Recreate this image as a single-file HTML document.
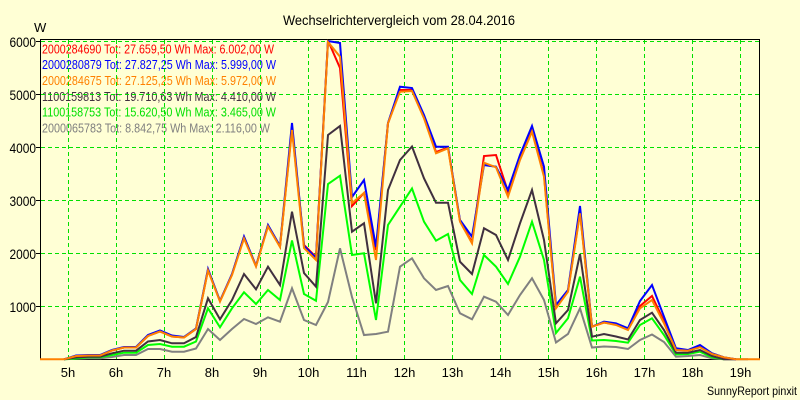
<!DOCTYPE html>
<html><head><meta charset="utf-8"><style>
html,body{margin:0;padding:0;background:#FFFFD5;}
svg{display:block;}
text{font-family:"Liberation Sans",Arial,sans-serif;}
</style></head><body>
<svg width="800" height="400" viewBox="0 0 800 400" xmlns="http://www.w3.org/2000/svg">
<rect x="0" y="0" width="800" height="400" fill="#FFFFD5"/>
<text x="399" y="25" font-size="14" text-anchor="middle" textLength="232" lengthAdjust="spacingAndGlyphs" fill="#000">Wechselrichtervergleich vom 28.04.2016</text>
<text x="34" y="32" font-size="13" fill="#000">W</text>

<!-- legend -->
<g font-size="12.5">
<text x="42" y="53.3" fill="#FF0000" textLength="232" lengthAdjust="spacingAndGlyphs">2000284690 Tot: 27.659,50 Wh Max: 6.002,00 W</text>
<text x="42" y="69.2" fill="#0000FF" textLength="234" lengthAdjust="spacingAndGlyphs">2000280879 Tot: 27.827,25 Wh Max: 5.999,00 W</text>
<text x="42" y="85" fill="#FF8000" textLength="234" lengthAdjust="spacingAndGlyphs">2000284675 Tot: 27.125,25 Wh Max: 5.972,00 W</text>
<text x="42" y="100.9" fill="#40303F" textLength="234" lengthAdjust="spacingAndGlyphs">1100159813 Tot: 19.710,63 Wh Max: 4.410,00 W</text>
<text x="42" y="116.7" fill="#00E000" textLength="234" lengthAdjust="spacingAndGlyphs">1100158753 Tot: 15.620,50 Wh Max: 3.465,00 W</text>
<text x="42" y="132.6" fill="#808080" textLength="228" lengthAdjust="spacingAndGlyphs">2000065783 Tot: 8.842,75 Wh Max: 2.116,00 W</text>
</g>

<!-- grid -->
<g stroke="#00E000" stroke-width="1" stroke-dasharray="4,3" fill="none">
<line x1="41" y1="41.5" x2="759" y2="41.5"/>
<line x1="41" y1="94.5" x2="759" y2="94.5"/>
<line x1="41" y1="147.5" x2="759" y2="147.5"/>
<line x1="41" y1="200.5" x2="759" y2="200.5"/>
<line x1="41" y1="253.5" x2="759" y2="253.5"/>
<line x1="41" y1="306.5" x2="759" y2="306.5"/>
<line x1="68.5" y1="40" x2="68.5" y2="359"/>
<line x1="116.5" y1="40" x2="116.5" y2="359"/>
<line x1="164.5" y1="40" x2="164.5" y2="359"/>
<line x1="212.5" y1="40" x2="212.5" y2="359"/>
<line x1="260.5" y1="40" x2="260.5" y2="359"/>
<line x1="308.5" y1="40" x2="308.5" y2="359"/>
<line x1="356.5" y1="40" x2="356.5" y2="359"/>
<line x1="404.5" y1="40" x2="404.5" y2="359"/>
<line x1="452.5" y1="40" x2="452.5" y2="359"/>
<line x1="500.5" y1="40" x2="500.5" y2="359"/>
<line x1="548.5" y1="40" x2="548.5" y2="359"/>
<line x1="596.5" y1="40" x2="596.5" y2="359"/>
<line x1="644.5" y1="40" x2="644.5" y2="359"/>
<line x1="692.5" y1="40" x2="692.5" y2="359"/>
<line x1="740.5" y1="40" x2="740.5" y2="359"/>
</g>

<!-- frame -->
<rect x="40.5" y="39.5" width="719" height="320" fill="none" stroke="#000" stroke-width="1"/>
<g stroke="#000" stroke-width="1">
<line x1="36" y1="41.5" x2="40" y2="41.5"/>
<line x1="36" y1="94.5" x2="40" y2="94.5"/>
<line x1="36" y1="147.5" x2="40" y2="147.5"/>
<line x1="36" y1="200.5" x2="40" y2="200.5"/>
<line x1="36" y1="253.5" x2="40" y2="253.5"/>
<line x1="36" y1="306.5" x2="40" y2="306.5"/>
</g>

<!-- y labels -->
<g font-size="14" text-anchor="end" fill="#000">
<text x="36" y="46.8" textLength="26.5" lengthAdjust="spacingAndGlyphs">6000</text>
<text x="36" y="99.8" textLength="26.5" lengthAdjust="spacingAndGlyphs">5000</text>
<text x="36" y="152.8" textLength="26.5" lengthAdjust="spacingAndGlyphs">4000</text>
<text x="36" y="205.8" textLength="26.5" lengthAdjust="spacingAndGlyphs">3000</text>
<text x="36" y="258.8" textLength="26.5" lengthAdjust="spacingAndGlyphs">2000</text>
<text x="36" y="311.8" textLength="26.5" lengthAdjust="spacingAndGlyphs">1000</text>
</g>

<!-- x labels -->
<g font-size="13" text-anchor="middle" fill="#000">
<text x="68" y="377">5h</text>
<text x="116" y="377">6h</text>
<text x="164" y="377">7h</text>
<text x="212" y="377">8h</text>
<text x="260" y="377">9h</text>
<text x="308.5" y="377">10h</text>
<text x="356.5" y="377">11h</text>
<text x="404.5" y="377">12h</text>
<text x="452.5" y="377">13h</text>
<text x="500.5" y="377">14h</text>
<text x="548.5" y="377">15h</text>
<text x="596.5" y="377">16h</text>
<text x="644.5" y="377">17h</text>
<text x="692.5" y="377">18h</text>
<text x="740.5" y="377">19h</text>
</g>
<text x="707" y="395" font-size="12" fill="#000" textLength="90" lengthAdjust="spacingAndGlyphs">SunnyReport pinxit</text>

<!-- series -->
<g fill="none" stroke-width="2" stroke-linejoin="miter">
<polyline stroke="#808080" points="64,359.3 76,358.8 88,358.3 100,358.3 112,357 124,355 136,355 148,349 160,349 172,351.7 184,351.7 196,348.5 208,329 220,340 232,329 244,319 256,324 268,317.3 280,321.7 292,288.3 304,320 316,325 328,302 340,248.3 352,297 364,335 376,334 388,331.7 400,266.7 412,258.3 424,278.3 436,290 448,286 460,313.3 472,319.3 484,296.7 496,301.7 508,315 520,295 532,278.3 544,300 556,342.5 568,334 580,308.3 592,347.5 604,346.5 616,347 628,349 640,340 652,334.5 664,342 676,356.7 688,356 700,355 712,358.3 724,359.3 748,359.3"/>
<polyline stroke="#00FF00" points="64,359.3 76,358.5 88,357.3 100,357.3 112,355 124,352.7 136,352.7 148,345 160,344 172,346.7 184,346.7 196,341.5 208,308.3 220,327.3 232,308.3 244,292.3 256,304 268,290 280,300 292,240.5 304,294 316,300.7 328,184 340,175.7 352,255 364,253.3 376,320 388,225 400,206.7 412,188.5 424,221.7 436,240.7 448,234 460,280 472,294 484,255 496,266.7 508,284 520,256.7 532,221.7 544,260 556,333 568,318.3 580,276.7 592,340.5 604,340 616,341 628,342.7 640,325 652,318.3 664,335 676,354.3 688,354 700,351.7 712,357.3 724,359.3"/>
<polyline stroke="#40303F" points="64,359.3 76,357.5 88,356.7 100,356.7 112,353.3 124,350.7 136,350.7 148,341.5 160,340 172,343.3 184,343.3 196,337 208,298.3 220,319.3 232,300 244,274 256,289.3 268,266.7 280,285 292,211.7 304,273 316,286.7 328,135 340,126 352,231.7 364,223.3 376,303.3 388,190 400,160 412,146.5 424,178.3 436,202.7 448,202.7 460,261.7 472,274 484,228.3 496,235 508,260 520,223.3 532,190 544,240 556,323.3 568,310 580,254 592,336.7 604,334 616,336.5 628,339.5 640,320 652,312.7 664,330 676,352.7 688,352.7 700,350 712,356 724,359.3 736,359.3"/>
<polyline stroke="#FF0000" points="64,359.3 76,356 88,355.5 100,355.5 112,350.5 124,347.5 136,347.5 148,336 160,331.5 172,336.5 184,337.5 196,329 208,270 220,301 232,274.5 244,237 256,266 268,225.5 280,246.5 292,128 304,245 316,257 328,40.5 340,68 352,206 364,193 376,250 388,123.3 400,90 412,90 424,117 436,152 448,147.5 460,221 472,242 484,156 496,155 508,191.7 520,156.7 532,130 544,175 556,307 568,291 580,212 592,326.7 604,322.5 616,324.5 628,329.5 640,306 652,296 664,321 676,349.5 688,350.5 700,346.5 712,353.5 724,357.5 736,359.3"/>
<polyline stroke="#0000FF" points="64,359.3 76,355.5 88,355 100,355 112,350 124,347 136,347 148,335 160,330.5 172,335.5 184,337 196,328.5 208,269 220,301 232,274 244,236.5 256,266 268,225 280,246 292,123 304,246 316,258 328,41 340,43 352,197 364,180 376,247 388,123 400,86.7 412,88 424,115 436,146.7 448,146.7 460,220 472,236.7 484,165 496,166.7 508,190 520,155 532,126 544,166.7 556,305 568,290 580,206 592,326.7 604,321.7 616,323.3 628,328.3 640,301 652,285 664,316.7 676,348.3 688,350 700,345 712,353.3 724,357.3 736,359.3"/>
<polyline stroke="#FF8000" points="40,359.3 52,359.3 64,359.3 76,356 88,355.5 100,355.5 112,350.5 124,347.5 136,347.5 148,336 160,331.5 172,336.5 184,337.5 196,329 208,270.5 220,301.5 232,275 244,238.5 256,266.5 268,226.5 280,247 292,130 304,248 316,260 328,42 340,56.7 352,203 364,193 376,260 388,123.3 400,91.7 412,91 424,118.3 436,153.3 448,148.3 460,221.7 472,243.3 484,162.7 496,167.3 508,196.7 520,160 532,131.7 544,176.7 556,308.3 568,291.7 580,213.3 592,326.7 604,322.5 616,325 628,330 640,308.3 652,300 664,323.3 676,350 688,350.7 700,347.3 712,354 724,357.3 736,359.3 748,359.3 760,359.3"/>
</g>
</svg>
</body></html>
